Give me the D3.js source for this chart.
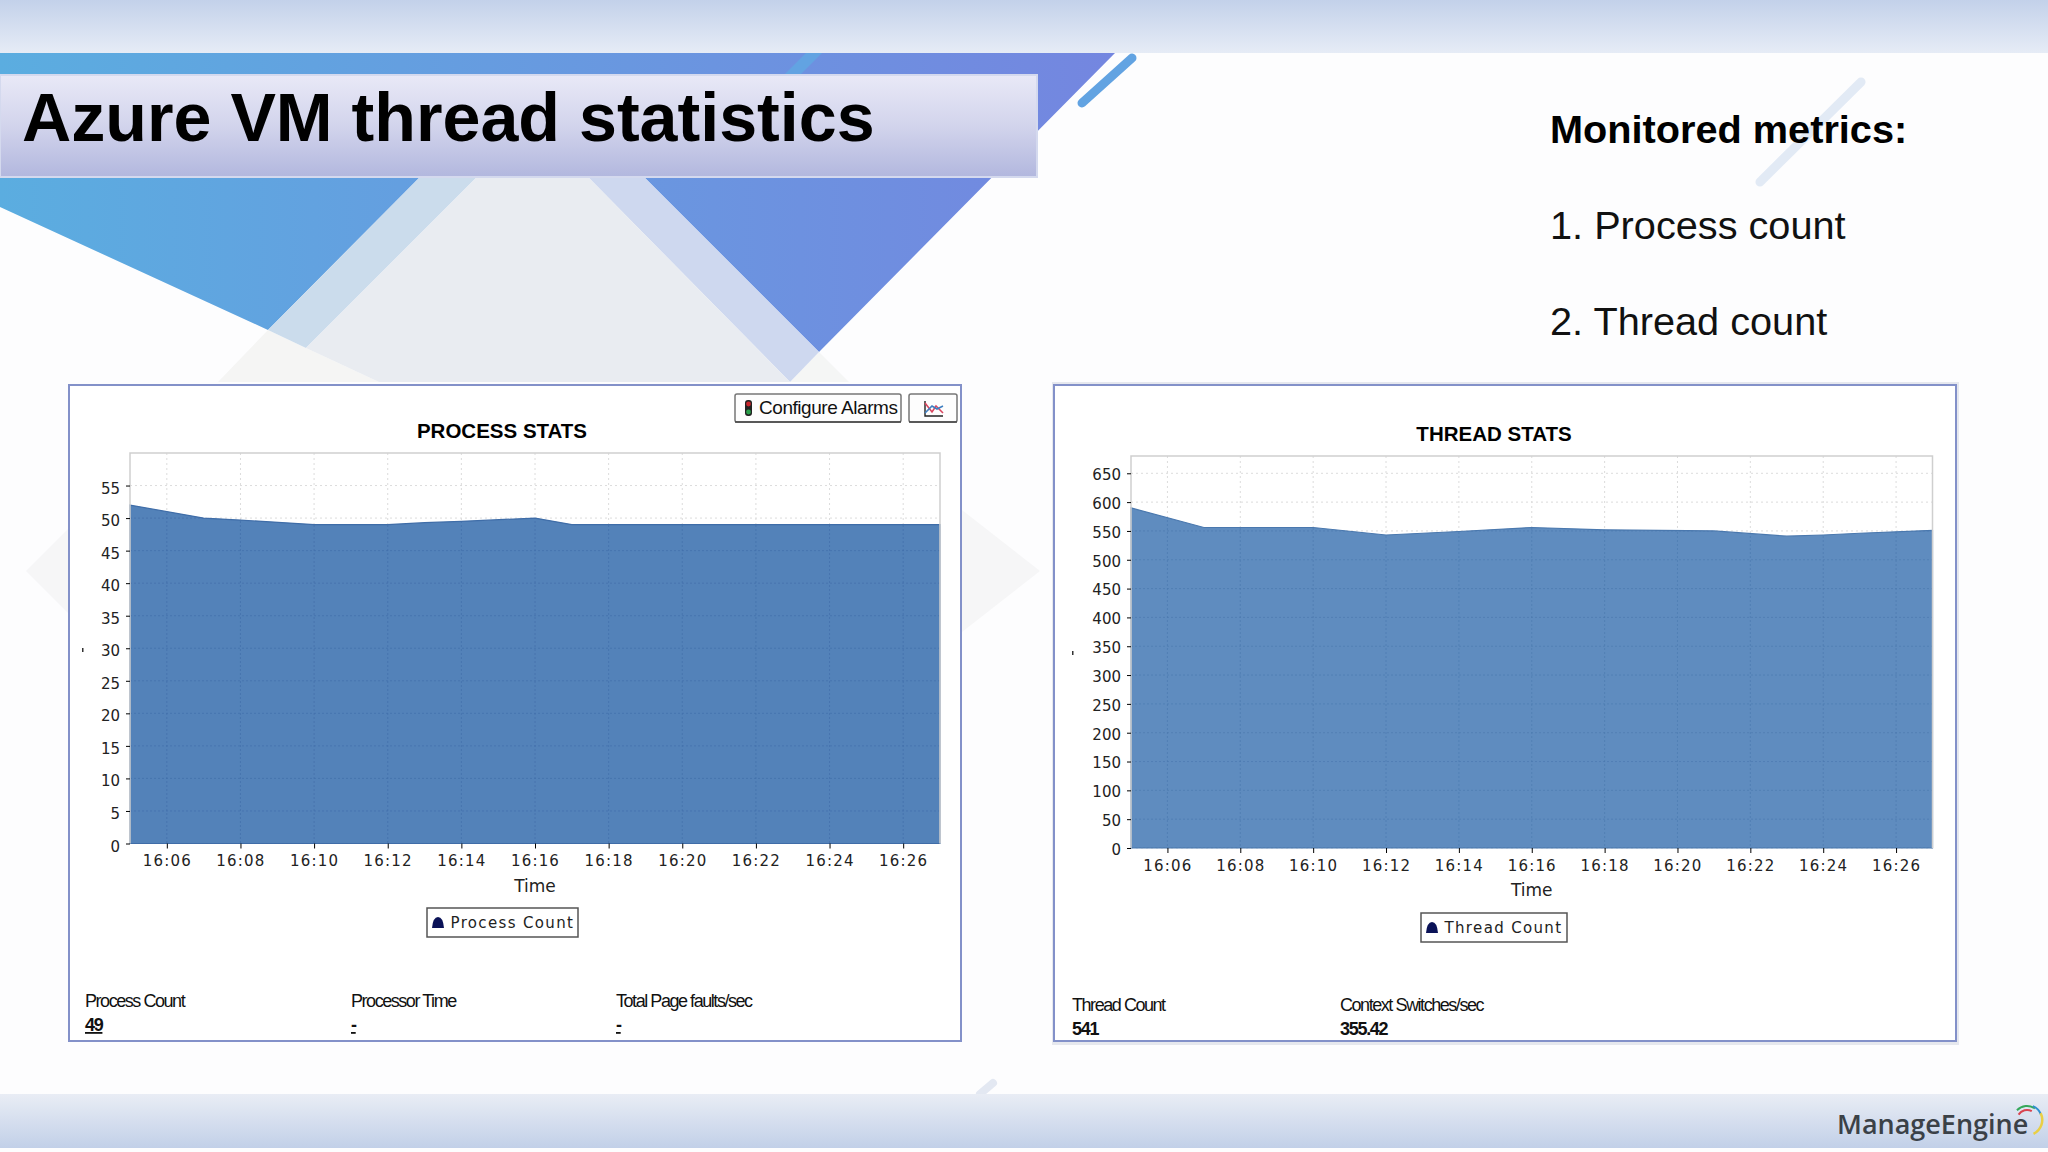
<!DOCTYPE html>
<html>
<head>
<meta charset="utf-8">
<title>Azure VM thread statistics</title>
<script src="https://cdn.jsdelivr.net/npm/d3@7"></script>
<style>
html, body { margin: 0; padding: 0; background: #fff; overflow: hidden; }
svg { display: block; }
.tick text { font-family: "DejaVu Sans", sans-serif; font-size: 15px; fill: #222; }
.xaxis .tick text { letter-spacing: 1.2px; }
.sans { font-family: "Liberation Sans", Arial, sans-serif; }
</style>
</head>
<body>
<div id="chart"></div>
<script>
// values
var processTimes = ["16:05", "16:07", "16:08", "16:10", "16:12", "16:13", "16:14", "16:16", "16:17", "16:20", "16:24", "16:27"];
var processCounts = [52, 50, 49.7, 49, 49, 49.3, 49.5, 50, 49, 49, 49, 49];
var threadTimes = ["16:05", "16:07", "16:10", "16:12", "16:14", "16:16", "16:18", "16:21", "16:23", "16:24", "16:25", "16:27"];
var threadCounts = [590, 556, 556, 543, 549, 556, 552, 550, 541, 543, 546, 551];
var timeTicks = ["16:06", "16:08", "16:10", "16:12", "16:14", "16:16", "16:18", "16:20", "16:22", "16:24", "16:26"];
var processTicks = [0, 5, 10, 15, 20, 25, 30, 35, 40, 45, 50, 55];
var threadTicks = [0, 50, 100, 150, 200, 250, 300, 350, 400, 450, 500, 550, 600, 650];
var metricLines = ["1. Process count", "2. Thread count"];
var processFooter = [["Process Count", "49"], ["Processor Time", "-"], ["Total Page faults/sec", "-"]];
var threadFooter = [["Thread Count", "541"], ["Context Switches/sec", "355.42"]];

var parseTime = d3.timeParse("%H:%M");
var formatTime = d3.timeFormat("%H:%M");

var svg = d3.select("#chart").append("svg")
  .attr("width", 2048)
  .attr("height", 1152);

var defs = svg.append("defs");

function gradient(id, x2, y2, stops) {
  var g = defs.append("linearGradient").attr("id", id)
    .attr("x1", 0).attr("y1", 0).attr("x2", x2).attr("y2", y2);
  stops.forEach(function(s, i) {
    g.append("stop").attr("offset", i / (stops.length - 1)).attr("stop-color", s);
  });
}
gradient("topBand", 0, 1, ["#c3d1ea", "#e6ecf6"]);
gradient("bottomBand", 0, 1, ["#e9edf5", "#c2d0e8"]);
gradient("blue", 1, 0, ["#5bade0", "#7486e0"]);
gradient("titleBox", 0, 1, ["#e9e9f7", "#d2d4ec", "#b2b7de"]);

// slide background
var line = d3.line();
function poly(points, fill, opacity) {
  svg.append("path").attr("d", line(points) + "Z").attr("fill", fill)
    .attr("fill-opacity", opacity === undefined ? 1 : opacity);
}
svg.append("rect").attr("width", 2048).attr("height", 1152).attr("fill", "#fdfdfe");
poly([[218, 382], [268, 330], [306, 348], [379, 382]], "#f5f5f4");
poly([[790, 382], [819, 352], [849, 382]], "#f5f6f5");
poly([[0, 53], [1115, 53], [819, 352], [645, 178], [419, 178], [268, 330], [0, 207]], "url(#blue)");
poly([[419, 178], [476, 178], [306, 348], [268, 330]], "#cbdcec");
poly([[589, 178], [645, 178], [819, 352], [790, 382]], "#ced8ef");
poly([[476, 178], [589, 178], [790, 382], [379, 382], [306, 348]], "#e9ecf1");
poly([[68, 529], [26, 571], [68, 613]], "#f6f6f7");
poly([[962, 510], [1040, 571], [962, 632]], "#f6f6f7");

function stripe(x1, y1, x2, y2, color, w, opacity) {
  svg.append("line").attr("x1", x1).attr("y1", y1).attr("x2", x2).attr("y2", y2)
    .attr("stroke", color).attr("stroke-width", w).attr("stroke-linecap", "round")
    .attr("stroke-opacity", opacity);
}
stripe(1132, 58, 1082, 103, "#62a3e2", 9, 1);
stripe(1861, 82, 1760, 182, "#dbe5f2", 9, 0.8);
stripe(993, 1083, 980, 1094, "#e3e8f2", 8, 1);
svg.append("path").attr("d", line([[806, 53], [822, 53], [800, 75], [784, 75]]) + "Z").attr("fill", "#62a3e2");

svg.append("rect").attr("width", 2048).attr("height", 53).attr("fill", "url(#topBand)");
svg.append("rect").attr("y", 1094).attr("width", 2048).attr("height", 54).attr("fill", "url(#bottomBand)");

// title
svg.append("rect").attr("x", 0).attr("y", 75).attr("width", 1037).attr("height", 102)
  .attr("fill", "url(#titleBox)").attr("stroke", "#d4d9ee").attr("stroke-width", 2);
svg.append("text").attr("class", "sans").attr("x", 22).attr("y", 141)
  .attr("font-size", 68.2).attr("font-weight", "bold").attr("fill", "#000")
  .text("Azure VM thread statistics");

// monitored metrics text
svg.append("text").attr("class", "sans").attr("x", 1550).attr("y", 143)
  .attr("font-size", 39.7).attr("font-weight", "bold").attr("fill", "#000")
  .text("Monitored metrics:");
svg.selectAll(".metric").data(metricLines).enter().append("text")
  .attr("class", "sans metric")
  .attr("x", 1550)
  .attr("y", function(d, i) { return 239 + i * 96; })
  .attr("font-size", 39.7)
  .attr("fill", "#111")
  .text(function(d) { return d; });

function drawPanel(cfg) {
  var g = svg.append("g");

  if (cfg.shadow) {
    g.append("rect").attr("x", cfg.box[0] - 2).attr("y", cfg.box[1] - 3)
      .attr("width", cfg.box[2] - cfg.box[0] + 5).attr("height", cfg.box[3] - cfg.box[1] + 7)
      .attr("fill", "#e6e8ee");
  }
  g.append("rect").attr("x", cfg.box[0]).attr("y", cfg.box[1])
    .attr("width", cfg.box[2] - cfg.box[0]).attr("height", cfg.box[3] - cfg.box[1])
    .attr("fill", "#fff").attr("stroke", "#8391c9").attr("stroke-width", 2);

  var x = d3.scaleTime()
    .domain([parseTime("16:05"), parseTime("16:27")])
    .range([cfg.plot[0], cfg.plot[1]]);
  var y = d3.scaleLinear()
    .domain([0, cfg.yMax])
    .range([cfg.plot[3], cfg.plot[2]]);

  var rows = cfg.times.map(function(t, i) { return { t: parseTime(t), v: cfg.values[i] }; });
  var tickDates = timeTicks.map(parseTime);

  var grid = function(color, dash) {
    var l = g.append("g").attr("fill", "none").attr("stroke", color).attr("stroke-dasharray", dash);
    l.selectAll(".v").data(tickDates).enter().append("line")
      .attr("x1", function(d) { return x(d); }).attr("x2", function(d) { return x(d); })
      .attr("y1", cfg.plot[2]).attr("y2", cfg.plot[3]);
    l.selectAll(".h").data(cfg.ticks).enter().append("line")
      .attr("x1", cfg.plot[0]).attr("x2", cfg.plot[1])
      .attr("y1", function(d) { return y(d); }).attr("y2", function(d) { return y(d); });
    return l;
  };

  grid("#dcdcdc", "2,3");

  var area = d3.area()
    .x(function(d) { return x(d.t); })
    .y0(y(0))
    .y1(function(d) { return y(d.v); });

  g.append("path").datum(rows).attr("d", area)
    .attr("fill", cfg.color).attr("stroke", cfg.edge).attr("stroke-width", 1.2);

  defs.append("clipPath").attr("id", cfg.id + "Clip")
    .append("path").datum(rows).attr("d", area);
  grid(cfg.edge, "2,2").attr("stroke-opacity", 0.6).attr("clip-path", "url(#" + cfg.id + "Clip)");

  // plot frame
  g.append("path")
    .attr("d", d3.line()([[cfg.plot[0], cfg.plot[3]], [cfg.plot[0], cfg.plot[2]], [cfg.plot[1], cfg.plot[2]], [cfg.plot[1], cfg.plot[3]]]))
    .attr("fill", "none").attr("stroke", "#cfcfcf").attr("stroke-width", 1.5);

  var yAxis = g.append("g").attr("transform", "translate(" + cfg.plot[0] + ",0)")
    .call(d3.axisLeft(y).tickValues(cfg.ticks).tickSize(4).tickPadding(6));
  yAxis.select(".domain").remove();
  yAxis.selectAll(".tick text").attr("dy", cfg.labelDy);

  var xAxis = g.append("g").attr("class", "xaxis").attr("transform", "translate(0," + cfg.plot[3] + ")")
    .call(d3.axisBottom(x).tickValues(tickDates).tickFormat(formatTime).tickSize(5).tickPadding(7));
  xAxis.select(".domain").remove();

  g.append("text").attr("class", "sans")
    .attr("x", cfg.titleX).attr("y", cfg.titleY)
    .attr("text-anchor", "middle").attr("font-size", 20.5).attr("font-weight", "bold")
    .text(cfg.title);

  g.append("text").attr("font-family", "DejaVu Sans")
    .attr("x", x(parseTime("16:16"))).attr("y", cfg.plot[3] + 48)
    .attr("text-anchor", "middle").attr("font-size", 17).attr("fill", "#222")
    .text("Time");

  // legend
  var lg = cfg.legend;
  g.append("rect").attr("x", lg[0]).attr("y", lg[1]).attr("width", lg[2] - lg[0]).attr("height", lg[3] - lg[1])
    .attr("fill", "#fff").attr("stroke", "#555").attr("stroke-width", 1.5);
  g.append("path")
    .attr("d", "M" + (lg[0] + 5) + " " + (lg[1] + 20) + "q1 -11 6 -11q5 0 6 11z")
    .attr("fill", "#0a1257");
  g.append("text").attr("font-family", "DejaVu Sans")
    .attr("x", lg[0] + 23.5).attr("y", lg[1] + 20)
    .attr("font-size", 15).attr("letter-spacing", 1.35).attr("fill", "#222")
    .text(cfg.legendLabel);

  // stray mark left of the axis
  g.append("rect").attr("x", cfg.mark[0]).attr("y", cfg.mark[1]).attr("width", 1.5).attr("height", 4).attr("fill", "#333");

  // footer figures
  cfg.footer.forEach(function(f, i) {
    g.append("text").attr("class", "sans")
      .attr("x", cfg.footerX[i]).attr("y", cfg.footerY)
      .attr("font-size", 18).attr("letter-spacing", -1.45).attr("fill", "#111")
      .text(f[0]);
    g.append("text").attr("class", "sans")
      .attr("x", cfg.footerX[i]).attr("y", cfg.footerY + 24)
      .attr("font-size", 18).attr("font-weight", "bold").attr("letter-spacing", -1.3).attr("fill", "#111")
      .attr("text-decoration", cfg.underline ? "underline" : "none")
      .text(f[1]);
  });
}

drawPanel({
  id: "process", title: "PROCESS STATS", times: processTimes, values: processCounts,
  ticks: processTicks, yMax: 60, box: [69, 385, 961, 1041], plot: [130, 940, 453, 843.5],
  color: "#5382b9", edge: "#3f6da8", titleX: 502, titleY: 438, labelDy: "0.5em",
  legend: [427, 908, 578, 937], legendLabel: "Process Count", mark: [82, 648],
  footer: processFooter, footerX: [85, 351, 616], footerY: 1007, underline: true
});

drawPanel({
  id: "thread", title: "THREAD STATS", times: threadTimes, values: threadCounts,
  ticks: threadTicks, yMax: 680, box: [1054, 385, 1956, 1041], plot: [1131, 1932.5, 456, 848],
  color: "#5f8cbf", edge: "#4a78ae", titleX: 1494, titleY: 441, labelDy: "0.42em", shadow: true,
  legend: [1421, 913, 1567, 942], legendLabel: "Thread Count", mark: [1072, 651],
  footer: threadFooter, footerX: [1072, 1340], footerY: 1011, underline: false
});

// toolbar buttons on the process panel
function button(bx, by, bw, bh) {
  svg.append("rect").attr("x", bx).attr("y", by).attr("width", bw).attr("height", bh).attr("rx", 2)
    .attr("fill", "#fdfdfd").attr("stroke", "#777").attr("stroke-width", 1.5);
  svg.append("line").attr("x1", bx).attr("x2", bx + bw).attr("y1", by + bh).attr("y2", by + bh)
    .attr("stroke", "#444").attr("stroke-width", 1.5);
}
button(735, 394, 166, 28);
button(909, 394, 48, 28);
svg.append("rect").attr("x", 745).attr("y", 400).attr("width", 7).attr("height", 16).attr("rx", 3).attr("fill", "#222");
svg.append("circle").attr("cx", 748.5).attr("cy", 404).attr("r", 2.4).attr("fill", "#c9252b");
svg.append("circle").attr("cx", 748.5).attr("cy", 412).attr("r", 2.4).attr("fill", "#2aa04a");
svg.append("text").attr("class", "sans").attr("x", 759).attr("y", 414)
  .attr("font-size", 19).attr("letter-spacing", -0.45).attr("fill", "#111").text("Configure Alarms");
svg.append("path").attr("d", "M925 401v15h18").attr("fill", "none").attr("stroke", "#222").attr("stroke-width", 1.4);
svg.append("path").attr("d", "M925 403l7 9l4 -6l7 7").attr("fill", "none").attr("stroke", "#d9455f").attr("stroke-width", 1.6);
svg.append("path").attr("d", "M925 413l7 -7l5 3l6 -3").attr("fill", "none").attr("stroke", "#3f7fc0").attr("stroke-width", 1.6);

// logo
var logoArc = d3.arc();
[["#d8434f", 9, 11, -1.0, 0.5], ["#35a85a", 13, 15, -0.8, 0.6], ["#2f8fd0", 14, 16, 0.4, 1.2], ["#e9cf45", 14, 16.5, 1.1, 2.7]].forEach(function(a) {
  svg.append("path").attr("transform", "translate(2027,1120)")
    .attr("d", logoArc({ innerRadius: a[1], outerRadius: a[2], startAngle: a[3], endAngle: a[4] }))
    .attr("fill", a[0]);
});
svg.append("text").attr("x", 1837).attr("y", 1134)
  .attr("font-family", "Open Sans").attr("font-size", 27).attr("font-weight", 600)
  .attr("fill", "#3b4147").text("ManageEngine");
</script>
</body>
</html>
